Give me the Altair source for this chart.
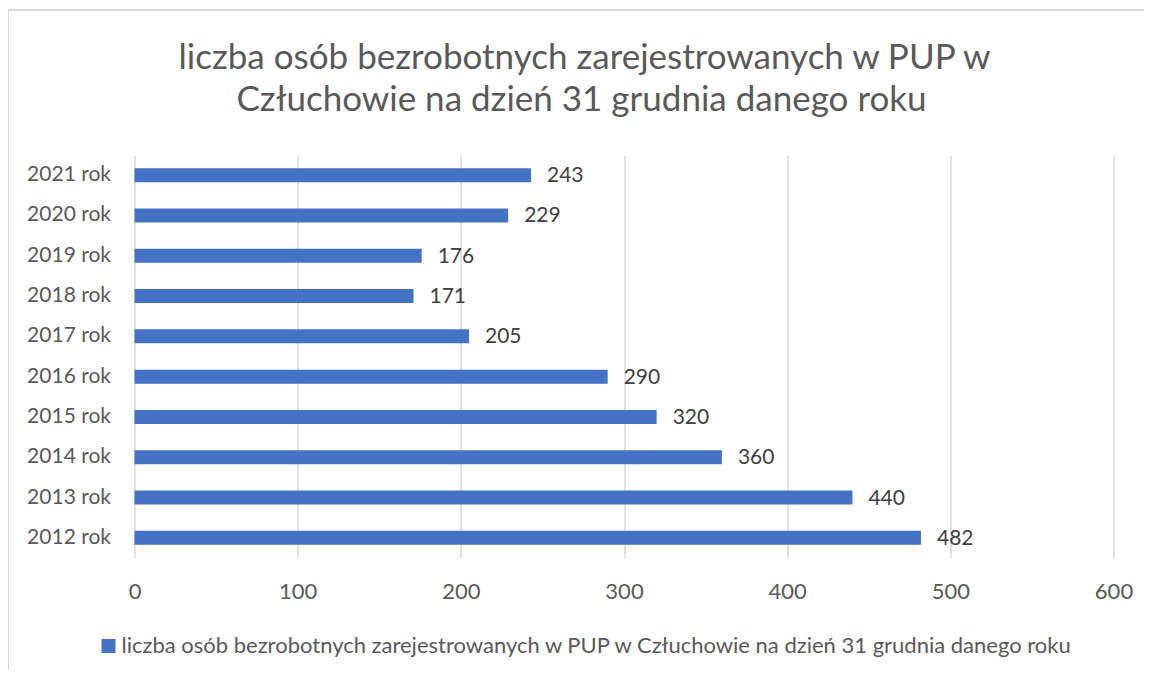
import altair as alt
import pandas as pd

years = ["2021 rok", "2020 rok", "2019 rok", "2018 rok", "2017 rok",
         "2016 rok", "2015 rok", "2014 rok", "2013 rok", "2012 rok"]
values = [243, 229, 176, 171, 205, 290, 320, 360, 440, 482]
series = "liczba osób bezrobotnych zarejestrowanych w PUP w Człuchowie na dzień 31 grudnia danego roku"
title_lines = ["liczba osób bezrobotnych zarejestrowanych w PUP w",
               "Człuchowie na dzień 31 grudnia danego roku"]

df = pd.DataFrame({"rok": years, "wartosc": values, "seria": [series] * len(years)})

FONT = "Lato"
GRAY = "#595959"

y_enc = alt.Y("rok:N", sort=years, title=None,
              axis=alt.Axis(labelFontSize=21, labelColor=GRAY, labelFont=FONT,
                            labelPadding=24, ticks=False, domain=False, grid=False))
x_enc = alt.X("wartosc:Q", title=None,
              scale=alt.Scale(domain=[0, 600], nice=False),
              axis=alt.Axis(values=[0, 100, 200, 300, 400, 500, 600],
                            labelFontSize=22, labelColor=GRAY, labelFont=FONT,
                            labelPadding=23, labelFlush=False, ticks=False, domain=False,
                            grid=True, gridColor="#d9d9d9", gridWidth=1.5))

bars = alt.Chart(df).mark_bar(size=14).encode(
    x=x_enc,
    y=y_enc,
    color=alt.Color("seria:N", scale=alt.Scale(domain=[series], range=["#4472C4"]),
                    legend=alt.Legend(title=None, orient="none", legendX=-37, legendY=480,
                                      symbolType="square", symbolSize=196,
                                      symbolStrokeWidth=0, labelFontSize=22,
                                      labelColor=GRAY, labelFont=FONT,
                                      labelLimit=1200, labelOffset=2)),
)

labels = alt.Chart(df).mark_text(align="left", baseline="middle", dx=16, dy=1,
                                 fontSize=21, font=FONT, color="#404040").encode(
    x=alt.X("wartosc:Q"),
    y=alt.Y("rok:N", sort=years),
    text=alt.Text("wartosc:Q"),
)

title_df = pd.DataFrame({"line": title_lines, "order": [0, 1]})
title1 = alt.Chart(pd.DataFrame({"t": [title_lines[0]]})).mark_text(
    align="center", baseline="middle", fontSize=35, font=FONT, color=GRAY
).encode(text="t:N", x=alt.value(450), y=alt.value(-97))
title2 = alt.Chart(pd.DataFrame({"t": [title_lines[1]]})).mark_text(
    align="center", baseline="middle", fontSize=35, font=FONT, color=GRAY
).encode(text="t:N", x=alt.value(447), y=alt.value(-55))

frame_top = alt.Chart(df).mark_rule(color="#d9d9d9", strokeWidth=1.2).encode(
    x=alt.value(-126.5), x2=alt.value(1030), y=alt.value(-145)
)
frame_left = alt.Chart(df).mark_rule(color="#d9d9d9", strokeWidth=1.2).encode(
    x=alt.value(-126.5), y=alt.value(-145), y2=alt.value(530)
)

chart = alt.layer(frame_top, frame_left, title1, title2, bars, labels).properties(
    width=979,
    height=403,
    autosize=alt.AutoSizeParams(type="none"),
    padding={"left": 126.5, "top": 147, "right": 30, "bottom": 112},
).configure(background="white").configure_view(stroke=None)

chart.save("out.html", embed_options={"renderer": "svg", "actions": False})
